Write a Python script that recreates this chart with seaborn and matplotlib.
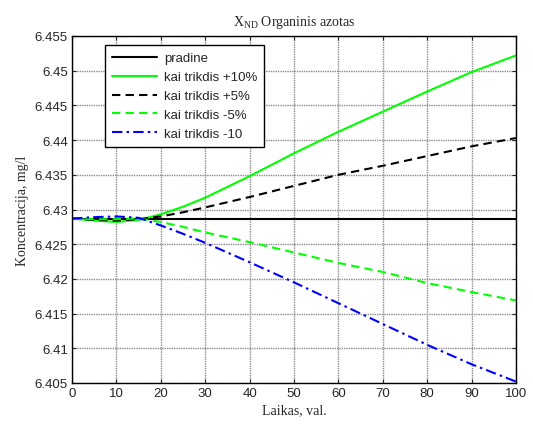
import matplotlib
matplotlib.use("Agg")
import matplotlib.pyplot as plt
import seaborn as sns
import pandas as pd

t = [0, 5, 10, 15, 20, 25, 30, 40, 50, 60, 70, 80, 90, 100]
pradine = [6.4287] * len(t)
plus10 = [6.4287, 6.4284, 6.4282, 6.4285, 6.4293, 6.4304, 6.4317, 6.4348, 6.4381, 6.4412, 6.4441, 6.4470, 6.4498, 6.4522]
plus5 = [6.4287, 6.4285, 6.4284, 6.4286, 6.4290, 6.4296, 6.4303, 6.4318, 6.4334, 6.4350, 6.4363, 6.4377, 6.4391, 6.4403]
minus5 = [6.4287, 6.4286, 6.4286, 6.4287, 6.4282, 6.4275, 6.4267, 6.4253, 6.4238, 6.4223, 6.4210, 6.4194, 6.4181, 6.4169]
minus10 = [6.4287, 6.4289, 6.4290, 6.4288, 6.4277, 6.4265, 6.4252, 6.4224, 6.4195, 6.4165, 6.4135, 6.4105, 6.4077, 6.4052]

labels = ["pradine", "kai trikdis +10%", "kai trikdis +5%", "kai trikdis -5%", "kai trikdis -10"]
series = [pradine, plus10, plus5, minus5, minus10]
xticks = [0, 10, 20, 30, 40, 50, 60, 70, 80, 90, 100]
yticks = [6.405, 6.41, 6.415, 6.42, 6.425, 6.43, 6.435, 6.44, 6.445, 6.45, 6.455]
ytick_labels = ["6.405", "6.41", "6.415", "6.42", "6.425", "6.43", "6.435", "6.44", "6.445", "6.45", "6.455"]

sns.set_style("ticks")
plt.rcParams["font.family"] = ["Liberation Sans", "DejaVu Sans"]
plt.rcParams["mathtext.fontset"] = "custom"
plt.rcParams["mathtext.rm"] = "Liberation Serif"
plt.rcParams["mathtext.it"] = "Liberation Serif:italic"

colors = ["black", "#00ff00", "black", "#00ff00", "blue"]
styles = ["-", "-", (0, (4, 2.5)), (0, (4, 2.5)), (0, (5, 2, 1.2, 2))]

fig = plt.figure(figsize=(5.33, 4.27), dpi=100)
ax = fig.add_axes([72 / 533, 43 / 427, 444 / 533, 347 / 427])

for lab, vals, c, ls in zip(labels, series, colors, styles):
    df = pd.DataFrame({"t": t, "v": vals})
    sns.lineplot(data=df, x="t", y="v", ax=ax, color=c, linestyle=ls, linewidth=1.5, label=lab)

ax.set_xlim(0, 100)
ax.set_ylim(6.405, 6.455)
ax.set_xticks(xticks)
ax.set_yticks(yticks)
ax.set_yticklabels(ytick_labels)
ax.tick_params(direction="in", top=True, right=True, labelsize=9.5, length=3, width=0.8, pad=3)
ax.grid(True, color="#8c8c8c", linestyle=(0, (1, 0.7)), linewidth=1.0)
for s in ax.spines.values():
    s.set_linewidth(1.0)
    s.set_color("black")

serif = {"family": "Liberation Serif", "size": 10}
ax.set_xlabel("Laikas, val.", fontdict=serif, labelpad=3)
ax.set_ylabel("Koncentracija, mg/l", fontdict=serif, labelpad=4)
ax.set_title(r"X$_{\mathrm{ND}}$ Organinis azotas", fontdict=serif, pad=8)

leg = ax.legend(loc="upper left", bbox_to_anchor=((105 - 72) / 444, (384 - 46) / 347),
                frameon=True, fancybox=False, edgecolor="black", fontsize=9.5,
                handlelength=3.4, handletextpad=0.5, borderaxespad=0,
                labelspacing=0.5, borderpad=0.55)
leg.get_frame().set_linewidth(1.0)
leg.get_frame().set_alpha(1)

fig.savefig("out.png", dpi=100)
